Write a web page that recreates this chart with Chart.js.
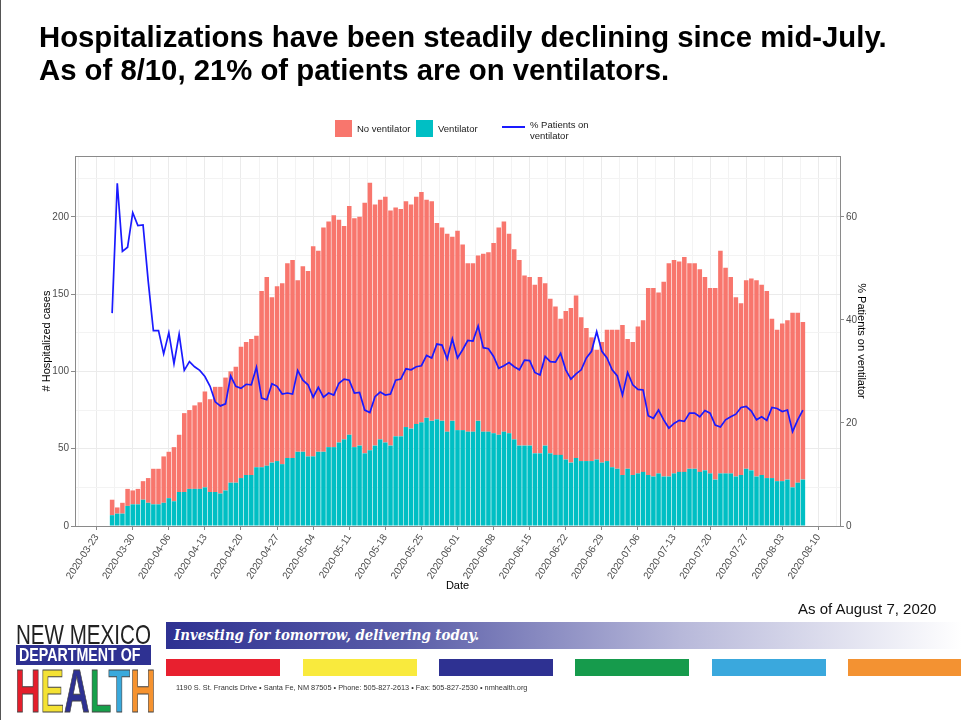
<!DOCTYPE html>
<html lang="en">
<head>
  <meta charset="UTF-8">
  <title>NM COVID-19 hospitalizations</title>
  <script src="https://cdn.jsdelivr.net/npm/chart.js@4.4.1/dist/chart.umd.min.js"></script>
  <style>
    body { margin: 0; background: #fff; font-family: "Liberation Sans", Arial, sans-serif; }
    #page { position: relative; width: 961px; height: 720px; overflow: hidden; border-left: 1px solid #555; box-sizing: border-box; }
    #chart { position: absolute; left: 0; top: 0; }
    .abs { position: absolute; white-space: nowrap; }
    .title { left: 38px; top: 20px; font-weight: bold; font-size: 29.3px; line-height: 33px; color: #000; }
    .key { position: absolute; top: 120px; width: 17px; height: 17px; }
    .lab { position: absolute; top: 123px; font-size: 9.5px; line-height: 11px; color: #1a1a1a; }
    .asof { left: 797px; top: 600px; font-size: 15px; color: #111; }
    .nm { left: 15px; top: 620px; font-size: 28px; line-height: 30px; color: #222; transform: scaleX(0.735); transform-origin: left top; }
    .dept { left: 15px; top: 645px; width: 135px; height: 20px; background: #2e3192; }
    .dept span { position: absolute; left: 3px; top: 1px; font-weight: bold; font-size: 18px; line-height: 18px; color: #fff; transform: scaleX(0.79); transform-origin: left top; }
    .health { left: 14px; top: 660px; font-weight: bold; font-size: 62px; line-height: 62px; transform: scale(0.57, 1.0); transform-origin: left top; -webkit-text-stroke: 1px #444; }
    .banner { left: 165px; top: 622px; width: 796px; height: 27px; background: linear-gradient(to right, #2e3192 0%, #5a5da8 30%, #b8b9da 65%, #ffffff 100%); }
    .banner span { position: absolute; left: 8px; top: 3px; font-family: "DejaVu Serif", serif; font-style: italic; font-weight: bold; font-size: 15.5px; color: #fff; transform: scaleX(0.86); transform-origin: left top; }
    .bar { position: absolute; top: 659px; height: 17px; width: 114px; }
    .addr { left: 175px; top: 683px; font-size: 7.35px; color: #333; }
  </style>
</head>
<body>
<div id="page">
  <canvas id="chart" width="961" height="720"></canvas>

  <div class="abs title">Hospitalizations have been steadily declining since mid-July.<br>As of 8/10, 21% of patients are on ventilators.</div>

  <span class="key" style="left:334px;background:#F8766D"></span>
  <span class="lab" style="left:356px">No ventilator</span>
  <span class="key" style="left:415px;background:#00BFC4"></span>
  <span class="lab" style="left:437px">Ventilator</span>
  <span class="abs" style="left:501px;top:126px;width:23px;height:2px;background:#1a1aff"></span>
  <span class="lab" style="left:529px;top:119px">% Patients on<br>ventilator</span>

  <div class="abs asof">As of August 7, 2020</div>

  <div class="abs nm">NEW MEXICO</div>
  <div class="abs dept"><span>DEPARTMENT OF</span></div>
  <div class="abs health"><span style="color:#e41e2b">H</span><span style="color:#f4e234">E</span><span style="color:#2e3192">A</span><span style="color:#17a04b">L</span><span style="color:#39a9dc">T</span><span style="color:#f5922f">H</span></div>

  <div class="abs banner"><span>Investing for tomorrow, delivering today.</span></div>
  <span class="bar" style="left:165px;background:#e8202f"></span>
  <span class="bar" style="left:302px;background:#f9ea3d"></span>
  <span class="bar" style="left:438px;background:#2e3192"></span>
  <span class="bar" style="left:574px;background:#169b4c"></span>
  <span class="bar" style="left:711px;background:#3aa8dd"></span>
  <span class="bar" style="left:847px;background:#f39232"></span>
  <div class="abs addr">1190 S. St. Francis Drive • Santa Fe, NM 87505 • Phone: 505-827-2613 • Fax: 505-827-2530 • nmhealth.org</div>
</div>

<script>
// daily values, first bar is 2020-03-26, one entry per day
const firstDay = '2020-03-26';

const ventilator = [
  7, 8, 8, 13, 14, 14, 17, 15, 14, 14,
  15, 18, 16, 22, 22, 24, 24, 24, 25, 22,
  22, 21, 23, 28, 28, 31, 33, 33, 38, 38,
  39, 41, 42, 40, 44, 44, 48, 48, 45, 45,
  48, 48, 51, 51, 54, 56, 59, 51, 52, 47,
  49, 52, 56, 54, 52, 58, 58, 64, 63, 66,
  67, 70, 68, 69, 68, 61, 68, 62, 62, 61,
  61, 68, 61, 61, 60, 59, 61, 60, 56, 52,
  52, 52, 47, 47, 52, 47, 46, 46, 43, 41,
  44, 42, 42, 42, 43, 41, 42, 38, 37, 33,
  37, 33, 34, 35, 33, 32, 34, 32, 32, 34,
  35, 35, 37, 37, 35, 36, 34, 30, 34, 34,
  34, 32, 33, 37, 36, 32, 33, 31, 31, 29,
  29, 30, 25, 28, 30
];

const noVentilator = [
  10, 4, 7, 11, 9, 10, 12, 16, 23, 23,
  30, 30, 35, 37, 51, 51, 54, 56, 62, 60,
  68, 69, 73, 72, 75, 85, 86, 88, 85, 114,
  122, 107, 113, 117, 126, 128, 111, 120, 120, 136,
  130, 145, 146, 150, 144, 138, 148, 148, 148, 162,
  173, 156, 155, 159, 152, 148, 147, 146, 145, 147,
  149, 141, 142, 127, 125, 128, 119, 129, 120, 109,
  109, 107, 115, 116, 123, 134, 136, 129, 123, 120,
  110, 109, 109, 114, 105, 100, 96, 88, 96, 100,
  105, 93, 86, 80, 71, 78, 85, 89, 90, 97,
  84, 86, 95, 98, 121, 122, 117, 126, 138, 138,
  136, 139, 133, 133, 131, 125, 120, 124, 144, 133,
  127, 116, 111, 122, 124, 127, 123, 121, 103, 98,
  102, 103, 113, 110, 102
];

// % of patients on ventilator (right axis)
const pctVentilator = [
  41.3, 66.5, 53.3, 54.1, 60.8, 58.3, 58.4, 47.5, 37.9, 37.9,
  33.4, 37.5, 31.5, 37.2, 30.2, 31.9, 30.9, 30.2, 29.0, 27.1,
  24.1, 23.3, 23.7, 29.1, 27.1, 26.7, 27.5, 27.4, 30.8, 24.8,
  24.5, 27.6, 27.1, 25.6, 25.8, 25.6, 30.2, 28.3, 27.4, 25.0,
  26.9, 25.0, 25.8, 25.4, 27.7, 28.5, 28.3, 25.8, 25.9, 22.5,
  22.0, 25.1, 26.0, 25.4, 25.6, 28.3, 28.5, 30.5, 30.3, 30.9,
  31.1, 33.1, 32.6, 35.3, 35.1, 32.4, 36.3, 32.6, 34.2, 36.0,
  35.9, 38.8, 34.6, 34.4, 32.9, 30.6, 31.1, 31.7, 30.9, 30.3,
  32.2, 32.1, 29.8, 29.3, 32.9, 31.9, 31.8, 33.5, 30.3, 28.5,
  29.5, 30.3, 32.6, 33.9, 37.7, 33.9, 32.6, 30.3, 29.1, 25.4,
  29.8, 27.4, 26.5, 26.4, 21.4, 20.9, 22.5, 20.6, 19.0, 19.9,
  20.5, 20.3, 21.9, 21.9, 21.2, 22.4, 21.9, 19.6, 19.2, 20.6,
  21.2, 21.7, 23.0, 23.2, 22.3, 20.6, 21.2, 20.5, 23.0, 22.8,
  22.2, 22.5, 18.3, 20.6, 22.5
];

// weekly date ticks (Mondays)
const dateTicks = [
  '2020-03-23', '2020-03-30', '2020-04-06', '2020-04-13', '2020-04-20',
  '2020-04-27', '2020-05-04', '2020-05-11', '2020-05-18', '2020-05-25',
  '2020-06-01', '2020-06-08', '2020-06-15', '2020-06-22', '2020-06-29',
  '2020-07-06', '2020-07-13', '2020-07-20', '2020-07-27', '2020-08-03',
  '2020-08-10'
];
const casesTicks = [0, 50, 100, 150, 200];
const pctTicks = [0, 20, 40, 60];

// x positions are days counted from the first tick date
const DAY = 86400000;
const origin = Date.parse(dateTicks[0]);
const startOffset = (Date.parse(firstDay) - origin) / DAY;
const dayX = ventilator.map((v, i) => startOffset + i);

const toPoints = arr => arr.map((v, i) => ({ x: dayX[i], y: v }));

const CASES_MAX = 239.3;
const GRID = '#ebebeb';
const GRID_MINOR = '#f3f3f3';
const AXIS = '#8a8a8a';
const TICK_TXT = '#4d4d4d';

Chart.defaults.font.family = '"Liberation Sans", Arial, sans-serif';

// top edge of the panel frame
const panelTop = {
  id: 'panelTop',
  afterDraw(chart) {
    const { ctx, chartArea } = chart;
    ctx.save();
    ctx.strokeStyle = AXIS;
    ctx.lineWidth = 1;
    ctx.beginPath();
    ctx.moveTo(chartArea.left, Math.round(chartArea.top) + 0.5);
    ctx.lineTo(chartArea.right, Math.round(chartArea.top) + 0.5);
    ctx.stroke();
    ctx.restore();
  }
};

new Chart(document.getElementById('chart').getContext('2d'), {
  type: 'bar',
  data: {
    datasets: [
      {
        type: 'line',
        label: '% Patients on ventilator',
        data: toPoints(pctVentilator),
        yAxisID: 'y2',
        borderColor: '#1a1aff',
        borderWidth: 1.7,
        pointRadius: 0,
        tension: 0,
        order: 0
      },
      {
        label: 'Ventilator',
        data: toPoints(ventilator),
        backgroundColor: '#00BFC4',
        stack: 'a',
        order: 1
      },
      {
        label: 'No ventilator',
        data: toPoints(noVentilator),
        backgroundColor: '#F8766D',
        stack: 'a',
        order: 2
      }
    ]
  },
  options: {
    responsive: false,
    animation: false,
    layout: { padding: { left: 35, top: 156, right: 90.4, bottom: 123.4 } },
    datasets: { bar: { categoryPercentage: 1, barPercentage: 0.88 } },
    plugins: { legend: { display: false }, tooltip: { enabled: false } },
    scales: {
      x: {
        type: 'linear',
        min: -4.2,
        max: 144.2,
        offset: false,
        stacked: true,
        afterFit: s => { s.height = 70.6; },
        grid: {
          offset: false,
          color: c => (c.tick && c.tick.value % 7 === 0) ? GRID : GRID_MINOR,
          tickColor: c => (c.tick && c.tick.value % 7 === 0) ? AXIS : 'rgba(0,0,0,0)',
          tickLength: 4
        },
        border: { display: true, color: AXIS, width: 1 },
        ticks: {
          stepSize: 3.5,
          includeBounds: false,
          autoSkip: false,
          minRotation: 57,
          maxRotation: 57,
          padding: 2,
          color: TICK_TXT,
          font: { size: 10 },
          callback: v => (v >= 0 && v % 7 === 0) ? dateTicks[v / 7] : ''
        },
        title: { display: true, text: 'Date', color: '#000', font: { size: 11 }, padding: { top: 0, bottom: 4 } }
      },
      y: {
        position: 'left',
        min: 0,
        max: CASES_MAX,
        stacked: true,
        afterFit: s => { s.width = 39; },
        grid: {
          color: c => (c.tick && c.tick.value % 50 === 0) ? GRID : GRID_MINOR,
          tickColor: c => (c.tick && casesTicks.includes(c.tick.value)) ? AXIS : 'rgba(0,0,0,0)',
          tickLength: 4
        },
        border: { display: true, color: AXIS, width: 1 },
        ticks: {
          stepSize: 25,
          includeBounds: false,
          padding: 2,
          color: TICK_TXT,
          font: { size: 10 },
          callback: v => casesTicks.includes(v) ? String(v) : ''
        },
        title: { display: true, text: '# Hospitalized cases', color: '#000', font: { size: 11 }, padding: { top: 4, bottom: 0 } }
      },
      y2: {
        position: 'right',
        min: 0,
        max: CASES_MAX * 0.3,
        afterFit: s => { s.width = 31.6; },
        grid: { drawOnChartArea: false, tickColor: AXIS, tickLength: 4 },
        border: { display: true, color: AXIS, width: 1 },
        ticks: {
          stepSize: 20,
          includeBounds: false,
          padding: 2,
          color: TICK_TXT,
          font: { size: 10 },
          callback: v => pctTicks.includes(v) ? String(v) : ''
        },
        title: { display: true, text: '% Patients on ventilator', color: '#000', font: { size: 11 }, padding: { top: 4, bottom: 0 } }
      }
    }
  },
  plugins: [panelTop]
});
</script>
</body>
</html>
